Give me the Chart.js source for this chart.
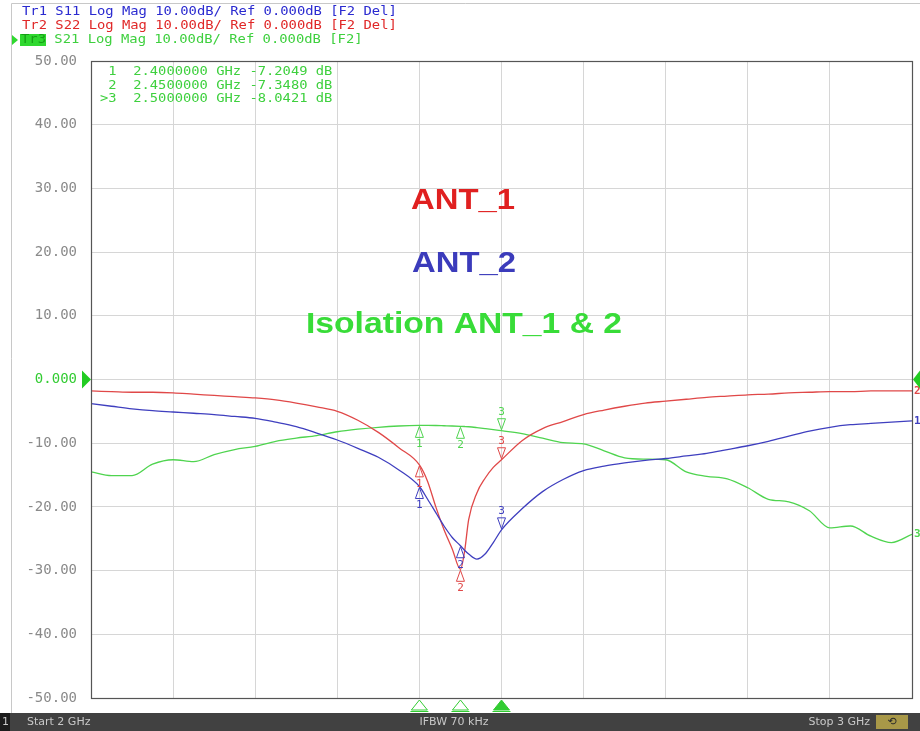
<!DOCTYPE html>
<html>
<head>
<meta charset="utf-8">
<title>VNA S-parameters</title>
<script src="https://cdn.jsdelivr.net/npm/chart.js@4.4.1/dist/chart.umd.min.js"></script>
<style>
  html, body { margin: 0; padding: 0; background: #fff; }
  #wrap { width: 920px; height: 731px; }
</style>
</head>
<body>
<div id="wrap"><canvas id="vna" width="920" height="731"></canvas></div>
<script>
// frequency points (GHz)
const freqGHz = [2.000, 2.025, 2.050, 2.075, 2.100, 2.125, 2.150, 2.175, 2.200, 2.225,
  2.250, 2.275, 2.300, 2.325, 2.350, 2.375, 2.400, 2.410, 2.420, 2.430,
  2.440, 2.450, 2.455, 2.460, 2.470, 2.480, 2.490, 2.500, 2.525, 2.550,
  2.575, 2.600, 2.625, 2.650, 2.675, 2.700, 2.725, 2.750, 2.775, 2.800,
  2.825, 2.850, 2.875, 2.900, 2.925, 2.950, 2.975, 3.000];

// Tr1 S11 (ANT_2), dB
const s11 = [-3.8, -4.2, -4.6, -4.9, -5.1, -5.3, -5.5, -5.8, -6.1, -6.7,
  -7.4, -8.4, -9.5, -10.8, -12.2, -14.2, -16.8, -18.8, -20.9, -23.0,
  -24.8, -26.1, -26.8, -27.4, -28.2, -27.4, -25.6, -23.6, -20.3, -17.6,
  -15.7, -14.3, -13.6, -13.1, -12.7, -12.4, -12.0, -11.6, -11.0, -10.4,
  -9.7, -8.9, -8.1, -7.5, -7.1, -6.9, -6.7, -6.5];

// Tr2 S22 (ANT_1), dB
const s22 = [-1.8, -1.9, -2.0, -2.0, -2.1, -2.3, -2.5, -2.7, -2.9, -3.2,
  -3.7, -4.3, -5.0, -6.4, -8.3, -10.7, -13.4, -16.0, -20.0, -23.6,
  -26.6, -29.8, -27.0, -22.0, -17.8, -15.5, -13.8, -12.6, -9.6, -7.7,
  -6.6, -5.5, -4.8, -4.2, -3.7, -3.4, -3.1, -2.8, -2.6, -2.4,
  -2.3, -2.1, -2.0, -1.9, -1.9, -1.8, -1.8, -1.8];

// Tr3 S21 (isolation), dB
const s21 = [-14.5, -15.1, -15.1, -13.3, -12.6, -12.9, -11.8, -11.0, -10.5, -9.7,
  -9.2, -8.8, -8.2, -7.8, -7.5, -7.3, -7.2049, -7.2, -7.22, -7.26,
  -7.3, -7.348, -7.38, -7.42, -7.55, -7.7, -7.86, -8.0421, -8.5, -9.2,
  -9.9, -10.1, -11.2, -12.3, -12.5, -12.6, -14.5, -15.2, -15.6, -17.0,
  -18.8, -19.2, -20.6, -23.3, -23.0, -24.6, -25.6, -24.3];

// markers (GHz) and the S21 readout
const markerFreqs = [2.40, 2.45, 2.50];
const markerS21 = [-7.2049, -7.3480, -8.0421];

const headerLines = [
  'Tr1 S11 Log Mag 10.00dB/ Ref 0.000dB [F2 Del]',
  'Tr2 S22 Log Mag 10.00dB/ Ref 0.000dB [F2 Del]',
  ' S21 Log Mag 10.00dB/ Ref 0.000dB [F2]'
];

const BLUE = '#3f3fbf';
const RED = '#e04848';
const GREEN = '#4fd44f';
const MONO = '"DejaVu Sans Mono", "Liberation Mono", monospace';

// draws monospace text so every char takes charW px
function drawMono(ctx, text, x, y, color, charW, size) {
  ctx.save();
  ctx.font = size + 'px ' + MONO;
  const sx = charW / ctx.measureText('M').width;
  ctx.translate(x, y);
  ctx.scale(sx, 1);
  ctx.fillStyle = color;
  ctx.textBaseline = 'middle';
  ctx.textAlign = 'left';
  ctx.fillText(text, 0, 0);
  ctx.restore();
}

// bold label squeezed/stretched to a given width, centred
function drawWide(ctx, text, cx, cy, width, color) {
  ctx.save();
  ctx.font = 'bold 30px "Liberation Sans", Arial, sans-serif';
  const sx = width / ctx.measureText(text).width;
  ctx.translate(cx, cy);
  ctx.scale(sx, 1);
  ctx.fillStyle = color;
  ctx.textBaseline = 'middle';
  ctx.textAlign = 'center';
  ctx.fillText(text, 0, 0);
  ctx.restore();
}

function tri(ctx, x, y, w, h, dir, color, fill) {
  // dir: 'up' tip at (x,y) pointing up, 'down' tip pointing down
  ctx.beginPath();
  if (dir === 'up') {
    ctx.moveTo(x, y); ctx.lineTo(x - w / 2, y + h); ctx.lineTo(x + w / 2, y + h);
  } else {
    ctx.moveTo(x, y); ctx.lineTo(x - w / 2, y - h); ctx.lineTo(x + w / 2, y - h);
  }
  ctx.closePath();
  if (fill) { ctx.fillStyle = color; ctx.fill(); }
  ctx.strokeStyle = color; ctx.lineWidth = 1; ctx.stroke();
}

const vnaDecor = {
  id: 'vnaDecor',
  beforeDraw(chart) {
    const ctx = chart.ctx;
    ctx.save();
    ctx.fillStyle = '#ffffff';
    ctx.fillRect(0, 0, chart.width, chart.height);
    ctx.restore();
  },
  afterDatasetsDraw(chart) {
    const ctx = chart.ctx;
    const xs = chart.scales.x, ys = chart.scales.y;
    ctx.save();
    chart.data.datasets.forEach(ds => {
      markerFreqs.forEach((f, i) => {
        const idx = freqGHz.findIndex(v => Math.abs(v - f) < 1e-6);
        const px = xs.getPixelForValue(f);
        const py = ys.getPixelForValue(ds.data[idx].y);
        ctx.font = '11px ' + MONO;
        ctx.fillStyle = ds.borderColor;
        ctx.textAlign = 'center';
        ctx.textBaseline = 'middle';
        if (i < 2) {
          tri(ctx, px, py + 1, 8, 11, 'up', ds.borderColor, false);
          ctx.fillText(String(i + 1), px, py + 19);
        } else {
          tri(ctx, px, py - 1, 8, 11, 'down', ds.borderColor, false);
          ctx.fillText(String(i + 1), px, py - 19);
        }
      });
      // trace number at the right edge
      const last = ds.data[ds.data.length - 1];
      ctx.font = 'bold 11px ' + MONO;
      ctx.fillStyle = ds.borderColor;
      ctx.textAlign = 'left';
      ctx.fillText(ds.traceNo, xs.right + 2, ys.getPixelForValue(last.y));
    });
    ctx.restore();
  },
  afterDraw(chart) {
    const ctx = chart.ctx;
    const a = chart.chartArea;
    const xs = chart.scales.x, ys = chart.scales.y;
    ctx.save();

    // outer window border
    ctx.strokeStyle = '#c8c8c8';
    ctx.lineWidth = 1;
    ctx.beginPath();
    ctx.moveTo(11.5, 713); ctx.lineTo(11.5, 3.5); ctx.lineTo(920, 3.5);
    ctx.stroke();

    // plot frame
    ctx.strokeStyle = '#555555';
    ctx.lineWidth = 1.2;
    ctx.strokeRect(Math.round(a.left) + 0.5, Math.round(a.top) + 0.5,
      Math.round(a.right - a.left), Math.round(a.bottom - a.top));

    // header
    const hdrColors = ['#2a2ad0', '#e02828', '#3ed03e'];
    drawMono(ctx, headerLines[0], 22, 12, hdrColors[0], 8.33, 12);
    drawMono(ctx, headerLines[1], 22, 26, hdrColors[1], 8.33, 12);
    ctx.fillStyle = '#2fd82f';
    ctx.beginPath(); ctx.moveTo(12, 35); ctx.lineTo(18, 40); ctx.lineTo(12, 45); ctx.closePath(); ctx.fill();
    ctx.fillRect(20, 34, 26, 12);
    drawMono(ctx, 'Tr3', 21, 40, '#16a016', 8.33, 12);
    drawMono(ctx, headerLines[2], 46, 40, hdrColors[2], 8.33, 12);

    // marker table
    markerFreqs.forEach((f, i) => {
      const line = (i === 2 ? '>' : ' ') + (i + 1) + '  ' + f.toFixed(7) + ' GHz ' +
        markerS21[i].toFixed(4) + ' dB';
      drawMono(ctx, line, 100, 72 + i * 13.5, '#3ed03e', 8.3, 12);
    });

    // annotations
    drawWide(ctx, 'ANT_1', 463, 201, 104, '#e02020');
    drawWide(ctx, 'ANT_2', 464, 264, 104, '#3b3bbb');
    drawWide(ctx, 'Isolation ANT_1 & 2', 464, 325, 316, '#38dc38');

    // reference position arrows (0 dB)
    const y0 = ys.getPixelForValue(0);
    ctx.fillStyle = '#22cc22';
    ctx.beginPath(); ctx.moveTo(82, y0 - 9); ctx.lineTo(91, y0); ctx.lineTo(82, y0 + 9); ctx.closePath(); ctx.fill();
    ctx.beginPath(); ctx.moveTo(920, y0 - 9); ctx.lineTo(913, y0); ctx.lineTo(920, y0 + 9); ctx.closePath(); ctx.fill();

    // stimulus markers under the grid
    markerFreqs.forEach((f, i) => {
      const px = xs.getPixelForValue(f);
      tri(ctx, px, 700, 16, 10, 'up', '#33cc33', i === 2);
      ctx.strokeStyle = '#33cc33';
      ctx.beginPath(); ctx.moveTo(px - 9, 711.5); ctx.lineTo(px + 9, 711.5); ctx.stroke();
    });

    // status bar
    ctx.fillStyle = '#414141';
    ctx.fillRect(0, 713, 920, 18);
    ctx.fillStyle = '#1c1c1c';
    ctx.fillRect(0, 713, 10, 18);
    ctx.font = '11px "DejaVu Sans", sans-serif';
    ctx.textBaseline = 'middle';
    ctx.fillStyle = '#c8c8c8';
    ctx.textAlign = 'left';
    ctx.fillText('1', 2, 722);
    ctx.fillText('Start 2 GHz', 27, 722);
    ctx.textAlign = 'center';
    ctx.fillText('IFBW 70 kHz', 454, 722);
    ctx.textAlign = 'right';
    ctx.fillText('Stop 3 GHz', 870, 722);
    ctx.fillStyle = '#a89848';
    ctx.fillRect(876, 715, 32, 14);
    ctx.fillStyle = '#2a2a2a';
    ctx.textAlign = 'center';
    ctx.fillText('\u27F2', 892, 722);

    ctx.restore();
  }
};

function toPoints(values) {
  return freqGHz.map((f, i) => ({ x: f, y: values[i] }));
}

const ctx = document.getElementById('vna').getContext('2d');
new Chart(ctx, {
  type: 'line',
  data: {
    datasets: [
      { label: 'Tr1 S11', traceNo: '1', data: toPoints(s11), borderColor: BLUE },
      { label: 'Tr2 S22', traceNo: '2', data: toPoints(s22), borderColor: RED },
      { label: 'Tr3 S21', traceNo: '3', data: toPoints(s21), borderColor: GREEN }
    ].map(d => Object.assign(d, {
      borderWidth: 1.3,
      pointRadius: 0,
      fill: false,
      cubicInterpolationMode: 'monotone'
    }))
  },
  options: {
    responsive: false,
    animation: false,
    devicePixelRatio: 1,
    layout: { padding: { top: 61, right: 8, bottom: 33, left: 0 } },
    plugins: { legend: { display: false }, tooltip: { enabled: false } },
    scales: {
      x: {
        type: 'linear',
        min: 2,
        max: 3,
        ticks: { display: false, stepSize: 0.1 },
        grid: { color: '#d6d6d6', drawTicks: false },
        border: { display: false },
        afterFit(scale) { scale.height = 0; }
      },
      y: {
        min: -50,
        max: 50,
        ticks: {
          stepSize: 10,
          padding: 14,
          font: { family: MONO, size: 14 },
          color: c => (c.tick && c.tick.value === 0 ? '#33cc33' : '#8a8a8a'),
          callback: v => (v === 0 ? '0.000' : v.toFixed(2))
        },
        grid: { color: '#d6d6d6', drawTicks: false },
        border: { display: false },
        afterFit(scale) { scale.width = 91; }
      }
    }
  },
  plugins: [vnaDecor]
});
</script>
</body>
</html>
